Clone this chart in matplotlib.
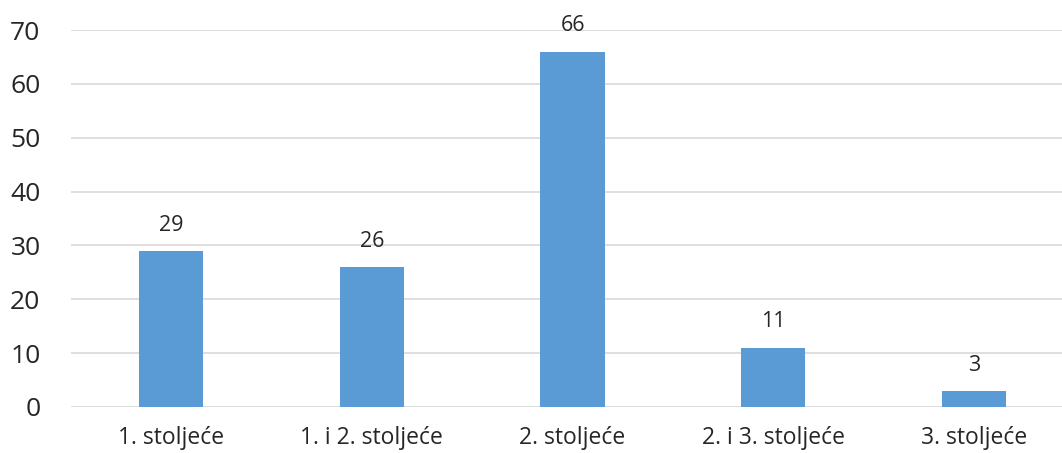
import matplotlib
matplotlib.use("Agg")
import matplotlib.pyplot as plt

# Podaci
kategorije = ["1. stoljeće", "1. i 2. stoljeće", "2. stoljeće", "2. i 3. stoljeće", "3. stoljeće"]
vrijednosti = [29, 26, 66, 11, 3]
y_ticks = [0, 10, 20, 30, 40, 50, 60, 70]

plt.rcParams['font.family'] = ['Open Sans', 'DejaVu Sans']

fig = plt.figure(figsize=(10.62, 4.53), dpi=100)
ax = fig.add_axes([71 / 1062, 46 / 453, (1074 - 71) / 1062, 377 / 453])

x = range(len(kategorije))
bars = ax.bar(x, vrijednosti, width=0.32, color="#5B9BD5", zorder=3)

for xi, v in zip(x, vrijednosti):
    ax.annotate(str(v), (xi, v), xytext=(0, 11), textcoords="offset points",
                ha="center", va="bottom", fontsize=15.5, color="#262626")

ax.set_xlim(-0.5, len(kategorije) - 0.5)
ax.set_ylim(0, 70)
ax.set_yticks(y_ticks)
ax.set_xticks(list(x))
ax.set_xticklabels(kategorije, fontsize=16.5, color="#262626")
ax.tick_params(axis="y", labelsize=19, labelcolor="#262626", length=0, pad=22)
ax.tick_params(axis="x", length=0, pad=14)

ax.grid(axis="y", color="#D9D9D9", linewidth=1.2, zorder=0)
for s in ax.spines.values():
    s.set_visible(False)

fig.savefig("out.png", dpi=100)
